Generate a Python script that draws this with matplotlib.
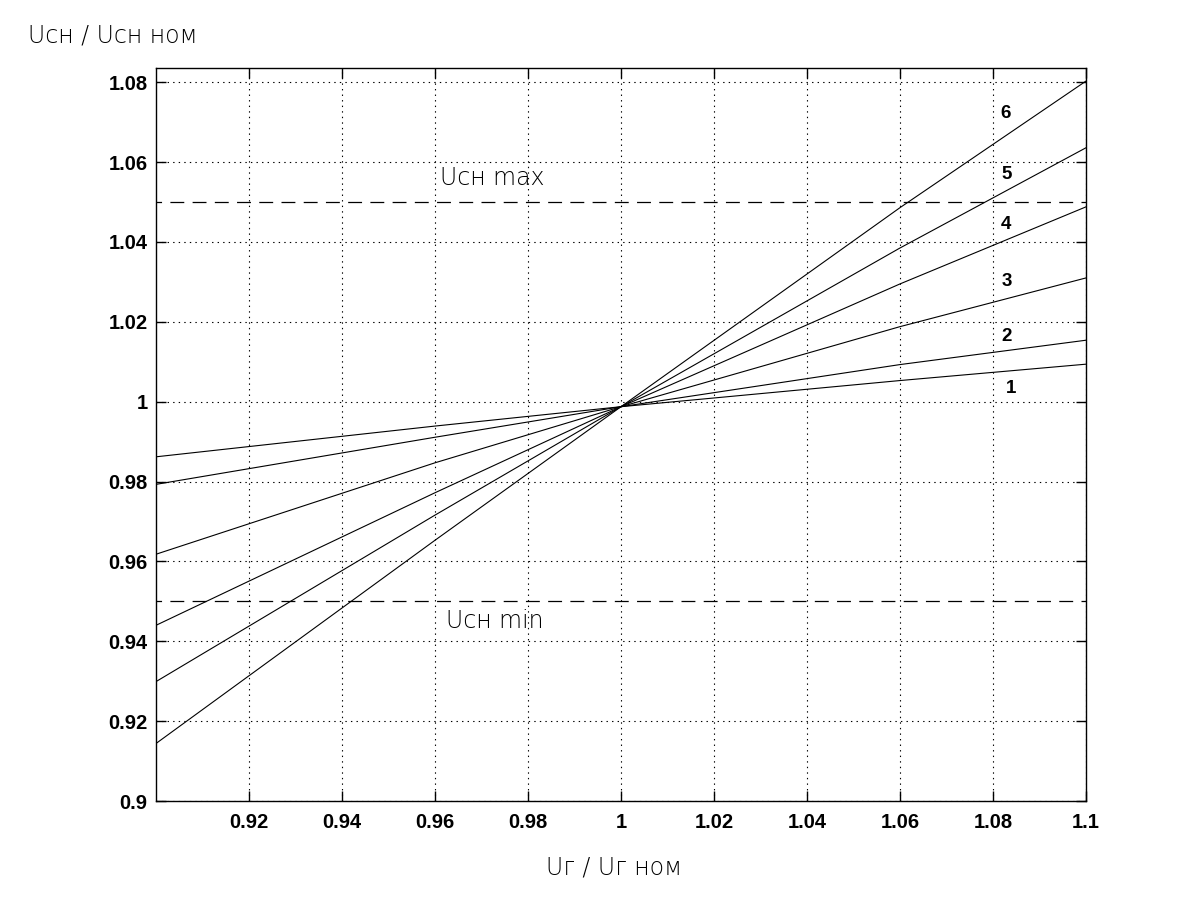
import matplotlib
matplotlib.use("Agg")
import matplotlib.pyplot as plt

plt.rcParams['lines.scale_dashes'] = False

# curves at a few x positions
x_pts = [0.9, 0.96, 1.0, 1.06, 1.1]
curves = {
    '1': [0.9862, 0.9939, 0.99875, 1.0053, 1.0094],
    '2': [0.9793, 0.9911, 0.99875, 1.0093, 1.0154],
    '3': [0.9618, 0.9847, 0.99875, 1.0188, 1.0310],
    '4': [0.9440, 0.9772, 0.99875, 1.0295, 1.0488],
    '5': [0.9299, 0.9716, 0.99875, 1.0385, 1.0636],
    '6': [0.9144, 0.9653, 0.99875, 1.0486, 1.0803],
}
# label position for each curve number
label_xy = {
    '1': (1.0838, 1.0033),
    '2': (1.0830, 1.0164),
    '3': (1.0829, 1.0300),
    '4': (1.0827, 1.0445),
    '5': (1.0830, 1.0569),
    '6': (1.0826, 1.0723),
}
u_max = 1.05
u_min = 0.95

xticks = [0.92, 0.94, 0.96, 0.98, 1.0, 1.02, 1.04, 1.06, 1.08, 1.1]
xtick_labels = ['0.92', '0.94', '0.96', '0.98', '1', '1.02', '1.04', '1.06', '1.08', '1.1']
yticks = [0.9, 0.92, 0.94, 0.96, 0.98, 1.0, 1.02, 1.04, 1.06, 1.08]
ytick_labels = ['0.9', '0.92', '0.94', '0.96', '0.98', '1', '1.02', '1.04', '1.06', '1.08']

fig = plt.figure(figsize=(12, 9), dpi=100)
ax = fig.add_axes([0.13, 0.11, 0.775, 0.815])

for k, vals in curves.items():
    ax.plot(x_pts, vals, color='black', lw=0.8)
    lx, ly = label_xy[k]
    ax.text(lx, ly, k, fontsize=13.5, fontweight='bold', family='Liberation Sans',
            ha='center', va='center')

ax.axhline(u_max, color='black', lw=0.9, linestyle=(6, (10, 6)))
ax.axhline(u_min, color='black', lw=0.9, linestyle=(6, (10, 6)))
ax.text(0.9611, 1.056, 'Uсн max', fontsize=17, family='DejaVu Sans',
        fontweight='light', ha='left', va='center')
ax.text(0.9624, 0.9451, 'Uсн min', fontsize=17, family='DejaVu Sans',
        fontweight='light', ha='left', va='center')

ax.set_xlim(0.9, 1.1)
ax.set_ylim(0.9, 1.0837)
ax.set_xticks(xticks)
ax.set_xticklabels(xtick_labels)
ax.set_yticks(yticks)
ax.set_yticklabels(ytick_labels)
ax.tick_params(direction='in', length=7, width=1, top=True, right=True)
ax.tick_params(axis='y', pad=6)
ax.tick_params(axis='x', pad=9)
for lab in ax.get_xticklabels() + ax.get_yticklabels():
    lab.set_fontweight('bold')
    lab.set_fontsize(14.5)
    lab.set_family('Liberation Sans')
for s in ax.spines.values():
    s.set_linewidth(1.0)

ax.grid(True, color='black', lw=0.8, linestyle=(0, (1, 3)))

fig.text(0.023, 0.961, 'Uсн / Uсн ном', fontsize=17, family='DejaVu Sans',
         fontweight='light', ha='left', va='center')
fig.text(0.512, 0.036, 'Uг / Uг ном', fontsize=17, family='DejaVu Sans',
         fontweight='light', ha='center', va='center')

fig.savefig('out.png', dpi=100)
